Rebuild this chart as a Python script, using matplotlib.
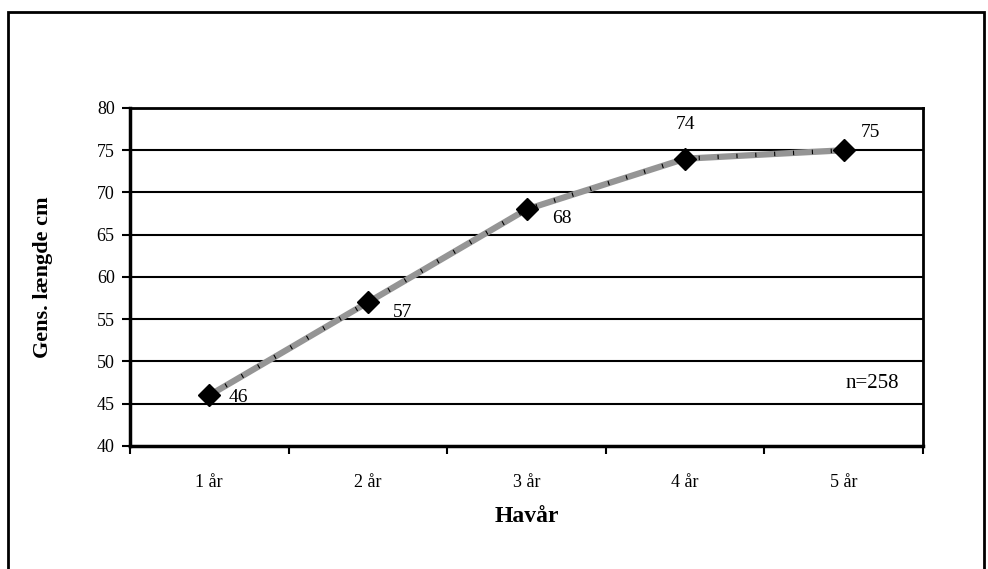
import matplotlib.pyplot as plt
from matplotlib.patches import Rectangle

# Data
categories = ["1 år", "2 år", "3 år", "4 år", "5 år"]
lengths = [46, 57, 68, 74, 75]
# label offsets in pixels (dx, dy)
label_offsets = [(29, -2), (35, -10), (35, -9), (0, 34), (27, 18)]

plt.rcParams['font.family'] = ['Liberation Serif', 'DejaVu Serif']

fig = plt.figure(figsize=(9.88, 5.69), dpi=100)
ax = fig.add_axes([130 / 988, 1 - 446 / 569, 793 / 988, 338 / 569])

# outer frame of the chart
fig.patches.append(Rectangle((8 / 988, -0.1), 976 / 988, 1.1 - 12 / 569,
                             transform=fig.transFigure, fill=False,
                             edgecolor='black', linewidth=2, zorder=10))

x = list(range(len(categories)))

# horizontal gridlines
for v in range(45, 81, 5):
    ax.axhline(v, color='black', linewidth=1.5, zorder=1)

ax.plot(x, lengths, color='#959595', linewidth=4.5, zorder=3, solid_capstyle='butt')
ax.plot(x, lengths, color='black', linewidth=3.2, linestyle=(0, (0.25, 4)), zorder=3)
ax.plot(x, lengths, linestyle='none', marker='D', markersize=11,
        color='black', zorder=4)

for xi, v, (dx, dy) in zip(x, lengths, label_offsets):
    ax.annotate(str(v), (xi, v), xytext=(dx, dy), textcoords='offset pixels',
                ha='center', va='center', fontsize=14)

ax.text(0.936, 0.186, "n=258", transform=ax.transAxes, ha='center',
        va='center', fontsize=15)

ax.set_xlim(-0.5, 4.5)
ax.set_ylim(40, 80)
ax.set_yticks(range(40, 81, 5))
ax.tick_params(axis='y', length=6, width=1.5, labelsize=13, pad=5)

ax.set_xticks([i - 0.5 for i in range(6)])
ax.set_xticklabels([])
ax.tick_params(axis='x', which='major', length=6, width=1.5)
ax.set_xticks(x, minor=True)
ax.set_xticklabels(categories, minor=True)
ax.tick_params(axis='x', which='minor', length=0, labelsize=13, pad=20)

for side in ['left', 'bottom']:
    ax.spines[side].set_linewidth(2.5)
for side in ['top', 'right']:
    ax.spines[side].set_linewidth(2)

ax.set_xlabel("Havår", fontsize=17, fontweight='bold', va='center')
ax.xaxis.set_label_coords(0.5, (446 - 517) / 338)
ax.set_ylabel("Gens. længde cm", fontsize=16, fontweight='bold', va='center')
ax.yaxis.set_label_coords((43 - 130) / 793, 0.5)

fig.savefig("out.png", dpi=100)
